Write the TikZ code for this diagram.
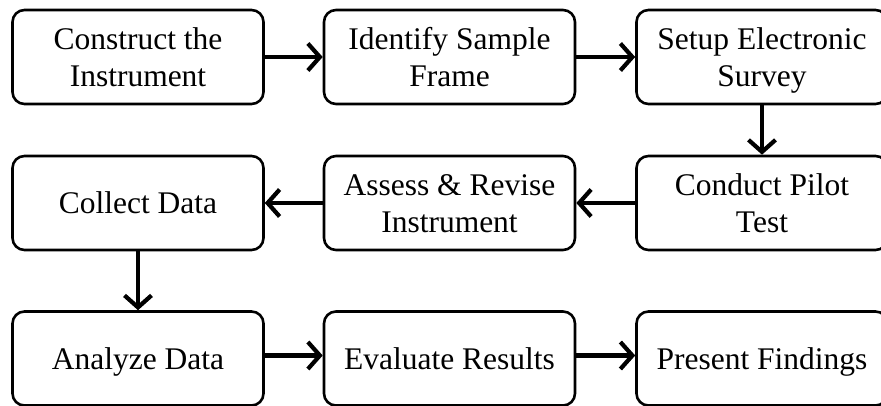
\documentclass[tikz,border=0pt]{standalone}
\usepackage{fontspec}
\setmainfont{Liberation Serif}
\usetikzlibrary{arrows.meta}
\newcommand\lnstrut{\rule[-7.5pt]{0pt}{37pt}}
\begin{document}
\begin{tikzpicture}[x=1pt,y=-1pt,
  box/.style={draw=black, line width=2.6pt, rounded corners=12pt, fill=white,
    minimum height=94pt, minimum width=251pt, align=center,
    font=\fontsize{31.5}{37}\selectfont, inner sep=0pt},
  arr/.style={line width=4.2pt, -{Straight Barb[length=12pt,width=27pt,line width=4.2pt]}}]
\useasboundingbox (0,0) rectangle (881,406);
\clip (0,0) rectangle (881,406);
\node[box] (b1) at (138,57) {\lnstrut Construct the\\\lnstrut Instrument};
\node[box] (b2) at (449.5,57) {\lnstrut Identify Sample\\\lnstrut Frame};
\node[box] (b3) at (762,57) {\lnstrut Setup Electronic\\\lnstrut Survey};
\node[box] (b4) at (762,203) {\lnstrut Conduct Pilot\\\lnstrut Test};
\node[box] (b5) at (449.5,203) {\lnstrut Assess \& Revise\\\lnstrut Instrument};
\node[box] (b6) at (138,203) {\lnstrut Collect Data};
\node[box] (b7) at (138,358.5) {\lnstrut Analyze Data};
\node[box] (b8) at (449.5,358.5) {\lnstrut Evaluate Results};
\node[box] (b9) at (762,358.5) {\lnstrut Present Findings};
\draw[arr] (b1) -- (b2);
\draw[arr] (b2) -- (b3);
\draw[arr] (b3) -- (b4);
\draw[arr] (b4) -- (b5);
\draw[arr] (b5) -- (b6);
\draw[arr] (b6) -- (b7);
\draw[arr] ([yshift=3pt]b7.east) -- ([yshift=3pt]b8.west);
\draw[arr] ([yshift=3pt]b8.east) -- ([yshift=3pt]b9.west);
\end{tikzpicture}
\end{document}
